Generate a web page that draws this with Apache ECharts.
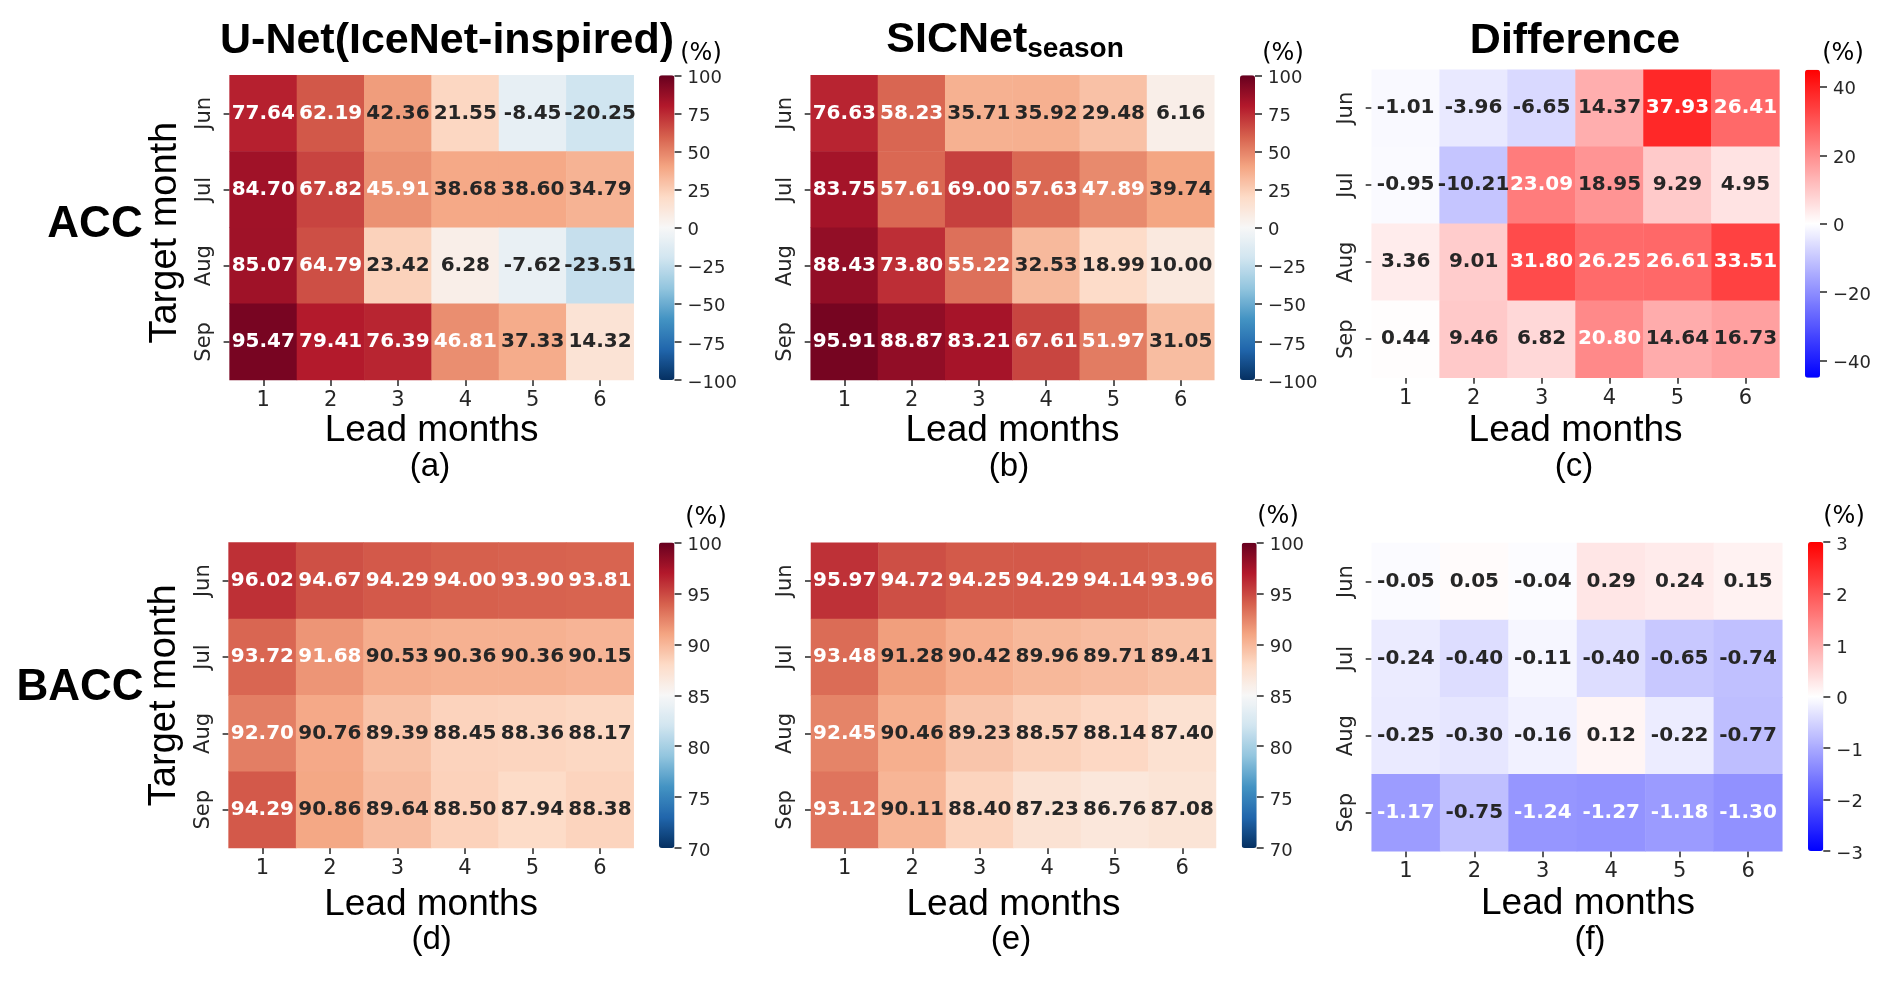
<!DOCTYPE html>
<html><head><meta charset="utf-8">
<script src="https://cdn.jsdelivr.net/npm/echarts@6/dist/echarts.min.js"></script>
<style>html,body{margin:0;padding:0;background:#fff}#c{width:1892px;height:981px}</style>
</head><body><div id="c"></div>
<script>
const targetMonths = ['Jun','Jul','Aug','Sep'];
const leadMonths = ['1','2','3','4','5','6'];

const accUnet = [
  [77.64,62.19,42.36,21.55,-8.45,-20.25],
  [84.70,67.82,45.91,38.68,38.60,34.79],
  [85.07,64.79,23.42,6.28,-7.62,-23.51],
  [95.47,79.41,76.39,46.81,37.33,14.32]];
const accSicnet = [
  [76.63,58.23,35.71,35.92,29.48,6.16],
  [83.75,57.61,69.00,57.63,47.89,39.74],
  [88.43,73.80,55.22,32.53,18.99,10.00],
  [95.91,88.87,83.21,67.61,51.97,31.05]];
const accDiff = [
  [-1.01,-3.96,-6.65,14.37,37.93,26.41],
  [-0.95,-10.21,23.09,18.95,9.29,4.95],
  [3.36,9.01,31.80,26.25,26.61,33.51],
  [0.44,9.46,6.82,20.80,14.64,16.73]];
const baccUnet = [
  [96.02,94.67,94.29,94.00,93.90,93.81],
  [93.72,91.68,90.53,90.36,90.36,90.15],
  [92.70,90.76,89.39,88.45,88.36,88.17],
  [94.29,90.86,89.64,88.50,87.94,88.38]];
const baccSicnet = [
  [95.97,94.72,94.25,94.29,94.14,93.96],
  [93.48,91.28,90.42,89.96,89.71,89.41],
  [92.45,90.46,89.23,88.57,88.14,87.40],
  [93.12,90.11,88.40,87.23,86.76,87.08]];
const baccDiff = [
  [-0.05,0.05,-0.04,0.29,0.24,0.15],
  [-0.24,-0.40,-0.11,-0.40,-0.65,-0.74],
  [-0.25,-0.30,-0.16,0.12,-0.22,-0.77],
  [-1.17,-0.75,-1.24,-1.27,-1.18,-1.30]];

const accTicks = [-100,-75,-50,-25,0,25,50,75,100];
const baccTicks = [70,75,80,85,90,95,100];
const accDiffTicks = [-40,-20,0,20,40];
const baccDiffTicks = [-3,-2,-1,0,1,2,3];

const RdBu_r = ['#053061','#2166ac','#4393c3','#92c5de','#d1e5f0','#f7f7f7','#fddbc7','#f4a582','#d6604d','#b2182b','#67001f'];
const bwr = ['#0000ff','#ffffff','#ff0000'];
const ink = '#262626';
const sans = '"Liberation Sans", Arial, sans-serif';
const dejavu = '"DejaVu Sans", sans-serif';

const panels = [
 {d:accUnet,   min:-100,max:100,ticks:accTicks,     cmap:RdBu_r,white:v=>v>=45,    g:[229.6,75.3,633.7,380], b:[659,75.3,674.5,380], ylab:true, yShift:10,pct:[701,54], xn:0,  lab:['(a)',430,467], nameGap:32},
 {d:accSicnet, min:-100,max:100,ticks:accTicks,     cmap:RdBu_r,white:v=>v>=45,    g:[810.7,75.3,1214.3,380],b:[1240,75.3,1255,380], ylab:false,pct:[1283,54],xn:0, lab:['(b)',1009,467],nameGap:32},
 {d:accDiff,   min:-45, max:45, ticks:accDiffTicks, cmap:bwr,   white:v=>Math.abs(v)>=20,g:[1371.7,69.7,1779.4,377.7],b:[1805,69.7,1820,377.7],ylab:false,pct:[1843,54],xn:0,lab:['(c)',1574,467],nameGap:35},
 {d:baccUnet,  min:70,  max:100,ticks:baccTicks,    cmap:RdBu_r,white:v=>v>=91.5,  g:[228.6,542.5,633.7,848], b:[659,542.5,674.5,848],ylab:true, yShift:0,pct:[706,518],xn:0,  lab:['(d)',431.6,940],nameGap:38},
 {d:baccSicnet,min:70,  max:100,ticks:baccTicks,    cmap:RdBu_r,white:v=>v>=91.5,  g:[811,542.7,1216,848],   b:[1241.7,542.7,1256.7,848],ylab:false,pct:[1278,517],xn:0,lab:['(e)',1011,940],nameGap:38},
 {d:baccDiff,  min:-3,  max:3,  ticks:baccDiffTicks,cmap:bwr,   white:v=>Math.abs(v)>=1.1,g:[1371.7,543,1782.3,851.3],b:[1808,542,1823.3,851],ylab:false,pct:[1844,517],xn:22,lab:['(f)',1590,940],nameGap:34}
];

const grid=[], xAxis=[], yAxis=[], series=[], visualMap=[], title=[];
const text=(t,x,y,size,weight,family)=>({text:t,left:x,top:y,padding:0,textAlign:'center',textVerticalAlign:'middle',
  textStyle:{fontSize:size,fontWeight:weight||'normal',fontFamily:family||sans,color:'#000'}});
const hiddenLine={show:true,onZero:false,lineStyle:{color:'rgba(0,0,0,0)',width:1}};
const tick={show:true,length:6,lineStyle:{color:'#262626',width:1.5}};

panels.forEach((p,i)=>{
  const [x0,y0,x1,y1]=p.g;
  grid.push({left:x0,top:y0,width:x1-x0,height:y1-y0,containLabel:false});
  xAxis.push({gridIndex:grid.length-1,type:'category',data:leadMonths,
    axisLine:hiddenLine,axisTick:Object.assign({alignWithLabel:true},tick),
    axisLabel:{color:ink,fontFamily:dejavu,fontSize:21,margin:10},splitLine:{show:false},splitArea:{show:false},
    name:'Lead months',nameLocation:'middle',nameGap:p.nameGap,nameMoveOverlap:false,
    nameTextStyle:{fontFamily:sans,fontSize:37,color:'#000',padding:[0,0,0,p.xn]}});
  yAxis.push({gridIndex:grid.length-1,type:'category',data:targetMonths,inverse:true,
    axisLine:hiddenLine,axisTick:Object.assign({alignWithLabel:true},tick),
    axisLabel:{color:ink,fontFamily:dejavu,fontSize:21,rotate:90,margin:15},splitLine:{show:false},splitArea:{show:false},
    name:p.ylab?'Target month':'',nameLocation:'middle',nameGap:45,nameRotate:90,nameMoveOverlap:false,
    nameTextStyle:{fontFamily:sans,fontSize:38,color:'#000',padding:[0,p.yShift||0,0,0]}});
  const cells=[];
  p.d.forEach((row,r)=>row.forEach((v,c)=>cells.push({value:[c,r,v],label:{color:p.white(v)?'#ffffff':ink}})));
  series.push({type:'heatmap',xAxisIndex:i,yAxisIndex:i,data:cells,silent:true,
    itemStyle:{borderWidth:0},emphasis:{disabled:true},progressive:0,
    label:{show:true,fontFamily:dejavu,fontSize:20,fontWeight:'bold',formatter:o=>o.value[2].toFixed(2)}});
  visualMap.push({type:'continuous',seriesIndex:i,min:p.min,max:p.max,calculable:false,hoverLink:false,
    left:p.b[0],top:p.b[1],itemWidth:p.b[2]-p.b[0],itemHeight:p.b[3]-p.b[1],padding:0,text:null,showLabel:false,
    borderRadius:0,itemStyle:{borderRadius:0},
    inRange:{color:p.cmap},textStyle:{color:'rgba(0,0,0,0)',fontSize:1}});
  title.push(text('(%)',p.pct[0],p.pct[1],24,'normal',dejavu));
  title.push(text(p.lab[0],p.lab[1],p.lab[2],33));
});
panels.forEach(p=>{
  const [x0,y0,x1,y1]=p.b;
  grid.push({left:x0,top:y0,width:x1-x0,height:y1-y0,containLabel:false});
  const gi=grid.length-1;
  xAxis.push({gridIndex:gi,type:'value',min:0,max:1,axisLine:{show:false},axisTick:{show:false},axisLabel:{show:false},splitLine:{show:false}});
  yAxis.push({gridIndex:gi,type:'value',position:'right',min:p.min,max:p.max,
    axisLine:hiddenLine,splitLine:{show:false},
    axisTick:Object.assign({customValues:p.ticks},tick,{length:7}),
    axisLabel:{color:ink,fontFamily:dejavu,fontSize:18,margin:13,showMinLabel:true,showMaxLabel:true,
      verticalAlign:'top',lineHeight:6,
      customValues:p.ticks,formatter:v=>String(v).replace('-','\u2212')}});
});
title.push(text('U-Net(IceNet-inspired)',447,41,43,'bold'));
title.push(text('Difference',1575,41,43,'bold'));
title.push({text:'{a|SICNet}{b|season}',left:1005,top:41,padding:0,textAlign:'center',textVerticalAlign:'middle',
  textStyle:{rich:{a:{fontSize:43,fontWeight:'bold',fontFamily:sans,color:'#000',padding:[0,0,2,0]},
                   b:{fontSize:28,fontWeight:'bold',fontFamily:sans,color:'#000',verticalAlign:'bottom'}}}});
title.push(text('ACC',95,225,44,'bold'));
title.push(text('BACC',80,688,44,'bold'));

const chart=echarts.init(document.getElementById('c'),null,{renderer:'canvas',width:1892,height:981});
chart.setOption({animation:false,backgroundColor:'#ffffff',tooltip:{show:false},title,grid,xAxis,yAxis,visualMap,series});
</script></body></html>
